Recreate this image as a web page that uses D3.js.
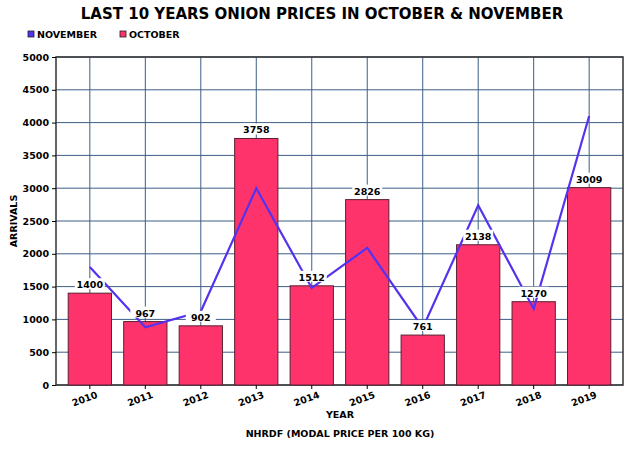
<!DOCTYPE html>
<html><head><meta charset="utf-8">
<script src="https://cdn.jsdelivr.net/npm/d3@7/dist/d3.min.js"></script>
<style>body{margin:0;background:#fff}text{font-family:"DejaVu Sans",sans-serif;font-weight:bold}</style>
</head><body><svg id="chart" width="640" height="470"></svg>
<script>
var years = ['2010','2011','2012','2013','2014','2015','2016','2017','2018','2019'];
var october = [1400, 967, 902, 3758, 1512, 2826, 761, 2138, 1270, 3009];
var november = [1800, 880, 1120, 3000, 1480, 2090, 870, 2740, 1160, 4100];
var yTicks = [0,500,1000,1500,2000,2500,3000,3500,4000,4500,5000];

(function() {
var svg = d3.select('#chart');
var pLeft = 56, pRight = 623, pTop = 57, pBottom = 385;

var x = d3.scaleBand().domain(years).range([pLeft, pRight]).padding(0.22);
var y = d3.scaleLinear().domain([0, 5000]).range([pBottom, pTop]);
function cx(d) { return x(d) + x.bandwidth() / 2; }

// grid
svg.selectAll('.hg').data(yTicks).enter().append('line')
  .attr('x1', pLeft).attr('x2', pRight)
  .attr('y1', function(d) { return y(d); }).attr('y2', function(d) { return y(d); })
  .attr('stroke', '#3d5f86').attr('stroke-width', 1);
svg.selectAll('.vg').data(years).enter().append('line')
  .attr('x1', cx).attr('x2', cx).attr('y1', pTop).attr('y2', pBottom)
  .attr('stroke', '#3d5f86').attr('stroke-width', 1);
svg.append('rect').attr('x', pLeft).attr('y', pTop).attr('width', pRight - pLeft).attr('height', pBottom - pTop)
  .attr('fill', 'none').attr('stroke', '#333').attr('stroke-width', 1.5);

// bars
svg.selectAll('.bar').data(october).enter().append('rect')
  .attr('x', function(d, i) { return x(years[i]); })
  .attr('y', function(d) { return y(d); })
  .attr('width', x.bandwidth())
  .attr('height', function(d) { return pBottom - y(d); })
  .attr('fill', '#ff336b').attr('stroke', '#5a2030').attr('stroke-width', 1);

// november line
var line = d3.line().x(function(d, i) { return cx(years[i]); }).y(function(d) { return y(d); });
svg.append('path').datum(november).attr('d', line)
  .attr('fill', 'none').attr('stroke', '#5533ee').attr('stroke-width', 2.2);

// value labels
var lab = svg.selectAll('.lab').data(october).enter().append('g')
  .attr('transform', function(d, i) { return 'translate(' + cx(years[i]) + ',' + (y(d) - 5) + ')'; });
lab.append('rect').attr('x', -15).attr('y', -10).attr('width', 30).attr('height', 11).attr('fill', '#fff');
lab.append('text').attr('text-anchor', 'middle').attr('font-size', 9.5).text(function(d) { return d; });

// axes
var yAxis = svg.append('g').attr('transform', 'translate(' + pLeft + ',0)')
  .call(d3.axisLeft(y).tickValues(yTicks).tickSize(4).tickFormat(d3.format('d')));
yAxis.select('.domain').remove();
yAxis.selectAll('text').attr('font-size', 9.5).attr('fill', '#000');
var xAxis = svg.append('g').attr('transform', 'translate(0,' + pBottom + ')')
  .call(d3.axisBottom(x).tickSize(4));
xAxis.select('.domain').remove();
xAxis.selectAll('text').attr('font-size', 9.5).attr('fill', '#000')
  .attr('text-anchor', 'middle').attr('dy', 0).attr('y', 0)
  .attr('transform', 'translate(-4,17) rotate(-20)');

// titles
svg.append('text').attr('x', 322).attr('y', 19).attr('text-anchor', 'middle').attr('font-size', 15).attr('font-weight', 900)
  .text('LAST 10 YEARS ONION PRICES IN OCTOBER & NOVEMBER');
svg.append('text').attr('x', 340).attr('y', 418).attr('text-anchor', 'middle').attr('font-size', 9.5).text('YEAR');
svg.append('text').attr('x', 340).attr('y', 437).attr('text-anchor', 'middle').attr('font-size', 9.5).text('NHRDF (MODAL PRICE PER 100 KG)');
svg.append('text').attr('transform', 'translate(17,' + ((pTop + pBottom) / 2) + ') rotate(-90)')
  .attr('text-anchor', 'middle').attr('font-size', 9.5).text('ARRIVALS');

// legend
var legend = [{name: 'NOVEMBER', color: '#5533ee', x: 28}, {name: 'OCTOBER', color: '#ff336b', x: 120}];
var lg = svg.selectAll('.lg').data(legend).enter().append('g')
  .attr('transform', function(d) { return 'translate(' + d.x + ',38)'; });
lg.append('rect').attr('x', 0).attr('y', -7).attr('width', 6).attr('height', 6)
  .attr('fill', function(d) { return d.color; }).attr('stroke', '#222').attr('stroke-width', 0.8);
lg.append('text').attr('x', 9).attr('y', 0).attr('font-size', 9.5).text(function(d) { return d.name; });
})();
</script></body></html>
